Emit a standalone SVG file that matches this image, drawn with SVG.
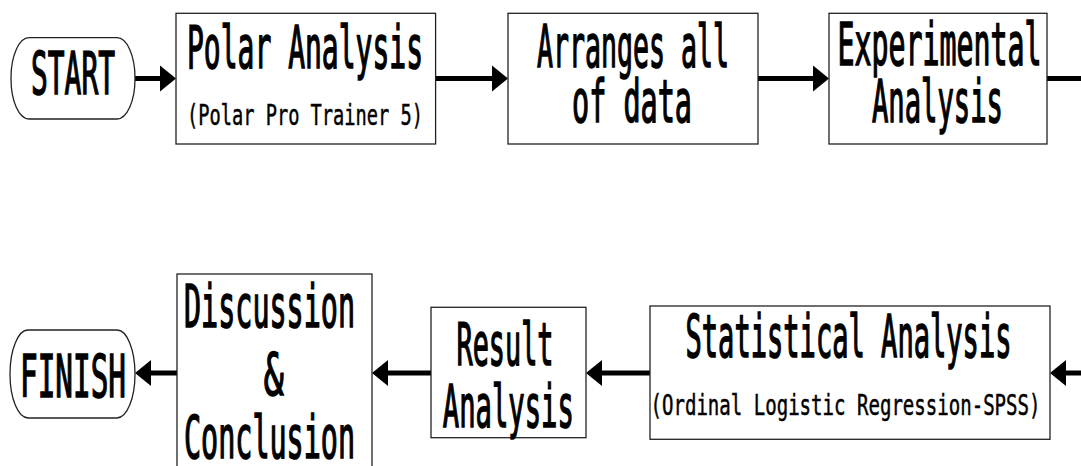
<svg xmlns="http://www.w3.org/2000/svg" width="1081" height="466" viewBox="0 0 1081 466">
  <style>
    .box { fill: #fff; stroke: #222; stroke-width: 1.3; }
    .term { fill: #fff; stroke: #222; stroke-width: 1.3; }
    .big { font-family: "DejaVu Sans Mono", "Liberation Mono", monospace; font-weight: normal; font-size: 59px; fill: #000; stroke: #000; stroke-width: 1.6; text-anchor: middle; }
    .small { font-family: "DejaVu Sans Mono", "Liberation Mono", monospace; font-weight: normal; font-size: 28px; fill: #000; stroke: #000; stroke-width: 0.5; text-anchor: middle; }
    .conn { stroke: #000; stroke-width: 5; fill: none; }
  </style>
  <defs>
    <marker id="head" markerUnits="userSpaceOnUse" markerWidth="18" markerHeight="28" viewBox="0 -14 18 28" refX="0" refY="0" orient="auto">
      <path d="M0,-13 L16,0 L0,13 Z" fill="#000"/>
    </marker>
  </defs>
  <rect width="1081" height="466" fill="#fff"/>

  <g id="connectors">
    <line class="conn" x1="135" y1="78.5" x2="160" y2="78.5" marker-end="url(#head)"/>
    <line class="conn" x1="435.6" y1="78.5" x2="492" y2="78.5" marker-end="url(#head)"/>
    <line class="conn" x1="758" y1="78.5" x2="813" y2="78.5" marker-end="url(#head)"/>
    <line class="conn" x1="1047" y1="78.5" x2="1081" y2="78.5"/>
    <line class="conn" x1="1081" y1="373" x2="1066" y2="373" marker-end="url(#head)"/>
    <line class="conn" x1="650" y1="373" x2="602" y2="373" marker-end="url(#head)"/>
    <line class="conn" x1="431" y1="373" x2="388" y2="373" marker-end="url(#head)"/>
    <line class="conn" x1="177" y1="373" x2="151" y2="373" marker-end="url(#head)"/>
  </g>

  <g id="start">
    <rect class="term" x="11" y="37.7" width="124" height="81.3" rx="18" ry="40"/>
    <text class="big" x="73" y="94.3" font-size="56" textLength="84" lengthAdjust="spacingAndGlyphs">START</text>
  </g>

  <g id="polar">
    <rect class="box" x="176" y="13.3" width="259.6" height="130.7"/>
    <text class="big" x="305" y="68.3" textLength="236" lengthAdjust="spacingAndGlyphs">Polar Analysis</text>
    <text class="small" x="305" y="125" textLength="236" lengthAdjust="spacingAndGlyphs">(Polar Pro Trainer 5)</text>
  </g>

  <g id="arranges">
    <rect class="box" x="508" y="13.3" width="250" height="130.7"/>
    <text class="big" x="633" y="66.5" textLength="192" lengthAdjust="spacingAndGlyphs">Arranges all</text>
    <text class="big" x="632" y="121.7" textLength="120" lengthAdjust="spacingAndGlyphs">of data</text>
  </g>

  <g id="experimental">
    <rect class="box" x="829" y="13.3" width="218" height="130.7"/>
    <text class="big" x="939.5" y="65" textLength="204" lengthAdjust="spacingAndGlyphs">Experimental</text>
    <text class="big" x="937.5" y="121.7" textLength="131" lengthAdjust="spacingAndGlyphs">Analysis</text>
  </g>

  <g id="statistical">
    <rect class="box" x="650" y="306" width="400" height="133.3"/>
    <text class="big" x="848.5" y="356.7" textLength="326" lengthAdjust="spacingAndGlyphs">Statistical Analysis</text>
    <text class="small" x="845.5" y="415" textLength="390" lengthAdjust="spacingAndGlyphs">(Ordinal Logistic Regression-SPSS)</text>
  </g>

  <g id="result">
    <rect class="box" x="431" y="307.3" width="155" height="130.4"/>
    <text class="big" x="505" y="365" textLength="97" lengthAdjust="spacingAndGlyphs">Result</text>
    <text class="big" x="508.3" y="426.7" textLength="131" lengthAdjust="spacingAndGlyphs">Analysis</text>
  </g>

  <g id="discussion">
    <rect class="box" x="177" y="274" width="195" height="210"/>
    <text class="big" x="269.5" y="326.7" textLength="171" lengthAdjust="spacingAndGlyphs">Discussion</text>
    <text class="big" x="273.7" y="395" textLength="20" lengthAdjust="spacingAndGlyphs">&amp;</text>
    <text class="big" x="269.5" y="458.3" textLength="171" lengthAdjust="spacingAndGlyphs">Conclusion</text>
  </g>

  <g id="finish">
    <rect class="term" x="10" y="330" width="125" height="88" rx="18" ry="44"/>
    <text class="big" x="73" y="396.7" textLength="106" lengthAdjust="spacingAndGlyphs">FINISH</text>
  </g>
</svg>
